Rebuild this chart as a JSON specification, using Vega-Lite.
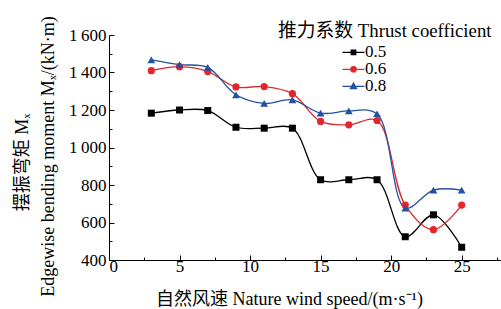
{
  "$schema": "https://vega.github.io/schema/vega-lite/v6.json",
  "width": 395,
  "height": 225,
  "autosize": {"type": "none"},
  "padding": {"left": 109, "top": 35, "right": 0, "bottom": 49},
  "background": "white",
  "data": {"values": [
    {"ws": 3, "k": "0.5", "m": 1183}, {"ws": 5, "k": "0.5", "m": 1200}, {"ws": 7, "k": "0.5", "m": 1197},
    {"ws": 9, "k": "0.5", "m": 1108}, {"ws": 11, "k": "0.5", "m": 1103}, {"ws": 13, "k": "0.5", "m": 1103},
    {"ws": 15, "k": "0.5", "m": 828}, {"ws": 17, "k": "0.5", "m": 828}, {"ws": 19, "k": "0.5", "m": 828},
    {"ws": 21, "k": "0.5", "m": 524}, {"ws": 23, "k": "0.5", "m": 641}, {"ws": 25, "k": "0.5", "m": 468},
    {"ws": 3, "k": "0.6", "m": 1410}, {"ws": 5, "k": "0.6", "m": 1431}, {"ws": 7, "k": "0.6", "m": 1405},
    {"ws": 9, "k": "0.6", "m": 1323}, {"ws": 11, "k": "0.6", "m": 1325}, {"ws": 13, "k": "0.6", "m": 1287},
    {"ws": 15, "k": "0.6", "m": 1139}, {"ws": 17, "k": "0.6", "m": 1121}, {"ws": 19, "k": "0.6", "m": 1144},
    {"ws": 21, "k": "0.6", "m": 693}, {"ws": 23, "k": "0.6", "m": 562}, {"ws": 25, "k": "0.6", "m": 693},
    {"ws": 3, "k": "0.8", "m": 1467}, {"ws": 5, "k": "0.8", "m": 1442}, {"ws": 7, "k": "0.8", "m": 1427},
    {"ws": 9, "k": "0.8", "m": 1281}, {"ws": 11, "k": "0.8", "m": 1235}, {"ws": 13, "k": "0.8", "m": 1254},
    {"ws": 15, "k": "0.8", "m": 1183}, {"ws": 17, "k": "0.8", "m": 1195}, {"ws": 19, "k": "0.8", "m": 1180},
    {"ws": 21, "k": "0.8", "m": 677}, {"ws": 23, "k": "0.8", "m": 773}, {"ws": 25, "k": "0.8", "m": 773}
  ]},
  "layer": [
    {
      "mark": {"type": "line", "interpolate": "catmull-rom", "strokeWidth": 1.3},
      "encoding": {
        "x": {"field": "ws", "type": "quantitative", "scale": {"domain": [0, 28], "nice": false},
          "axis": {"orient": "bottom", "values": [0, 5, 10, 15, 20, 25], "tickSize": -5, "labelPadding": 3,
            "title": "自然风速 Nature wind speed/(m·s⁻¹)", "titleX": 180, "titleY": 44, "titleBaseline": "alphabetic", "titleAlign": "center"}},
        "y": {"field": "m", "type": "quantitative", "scale": {"domain": [400, 1600], "nice": false, "zero": false},
          "axis": {"orient": "left", "values": [400, 600, 800, 1000, 1200, 1400, 1600], "tickSize": -5, "labelPadding": 8,
            "labelExpr": "replace(format(datum.value, ','), ',', '\u2009')",
            "title": "Edgewise bending moment Mₓ/(kN·m)", "titleX": -61, "titleY": 121,
            "titleBaseline": "middle", "titleAlign": "center"}},
        "color": {"field": "k", "type": "nominal", "scale": {"domain": ["0.5", "0.6", "0.8"], "range": ["#000000", "#e3262b", "#2151a1"]},
          "legend": {"title": "推力系数 Thrust coefficient", "orient": "none", "legendX": 169, "legendY": -13,
            "symbolOffset": 67, "labelOffset": 3, "symbolSize": 100, "symbolStrokeWidth": 1.3, "rowPadding": -1, "titlePadding": 3,
            "encode": {"symbols": {"update": {
              "shape": {"signal": "datum.value == '0.5' ? 'M-2.2,0L2.2,0M-0.45,-0.45L0.45,-0.45L0.45,0.45L-0.45,0.45Z' : datum.value == '0.6' ? 'M-2.2,0L2.2,0M0.55,0L0.476,0.275L0.275,0.476L0,0.55L-0.275,0.476L-0.476,0.275L-0.55,0L-0.476,-0.275L-0.275,-0.476L0,-0.55L0.275,-0.476L0.476,-0.275Z' : 'M-2.2,0L2.2,0M0,-0.65L0.6,0.45L-0.6,0.45Z'"},
              "fill": {"signal": "scale('color', datum.value)"},
              "stroke": {"signal": "scale('color', datum.value)"},
              "strokeWidth": {"value": 1.3},
              "opacity": {"value": 1}}}}}}
      }
    },
    {
      "transform": [{"filter": "datum.k == '0.5'"}],
      "mark": {"type": "point", "shape": "square", "filled": true, "color": "#000000", "size": 49, "opacity": 1},
      "encoding": {"x": {"field": "ws", "type": "quantitative", "axis": null}, "y": {"field": "m", "type": "quantitative", "axis": null}}
    },
    {
      "transform": [{"filter": "datum.k == '0.6'"}],
      "mark": {"type": "point", "shape": "circle", "filled": true, "color": "#e3262b", "size": 52, "opacity": 1},
      "encoding": {"x": {"field": "ws", "type": "quantitative", "axis": null}, "y": {"field": "m", "type": "quantitative", "axis": null}}
    },
    {
      "transform": [{"filter": "datum.k == '0.8'"}],
      "mark": {"type": "point", "shape": "triangle-up", "filled": true, "color": "#2151a1", "size": 60, "opacity": 1},
      "encoding": {"x": {"field": "ws", "type": "quantitative", "axis": null}, "y": {"field": "m", "type": "quantitative", "axis": null}}
    },
    {
      "transform": [{"filter": "datum.ws > 100"}],
      "mark": {"type": "point", "filled": true},
      "encoding": {
        "x": {"field": "ws", "type": "quantitative", "axis": {"orient": "bottom", "values": [2.5, 7.5, 12.5, 17.5, 22.5, 27.5], "labels": false, "domain": false, "tickSize": -3, "title": null}},
        "y": {"field": "m", "type": "quantitative", "axis": {"orient": "left", "values": [500, 700, 900, 1100, 1300, 1500], "labels": false, "domain": false, "tickSize": -3,
          "title": "摆振弯矩 Mₓ", "titleX": -87, "titleY": 127, "titleBaseline": "middle", "titleAlign": "center"}}
      }
    }
  ],
  "resolve": {"axis": {"x": "independent", "y": "independent"}},
  "config": {
    "font": "Liberation Serif, Noto Sans CJK SC",
    "view": {"stroke": null},
    "axis": {"grid": false, "domainColor": "#000000", "domainWidth": 1, "tickColor": "#000000", "tickWidth": 1,
      "labelColor": "#000000", "titleColor": "#000000", "labelFont": "Liberation Serif, Noto Sans CJK SC", "labelFontSize": 17,
      "titleFont": "Liberation Serif, Noto Sans CJK SC", "titleFontSize": 18, "titleFontWeight": "normal"},
    "legend": {"titleFont": "Liberation Serif, Noto Sans CJK SC", "titleFontSize": 18.8, "titleFontWeight": "normal", "titleColor": "#000000",
      "labelFont": "Liberation Serif, Noto Sans CJK SC", "labelFontSize": 17, "labelColor": "#000000", "padding": 0, "titleLimit": 300, "labelLimit": 100}
  }
}
